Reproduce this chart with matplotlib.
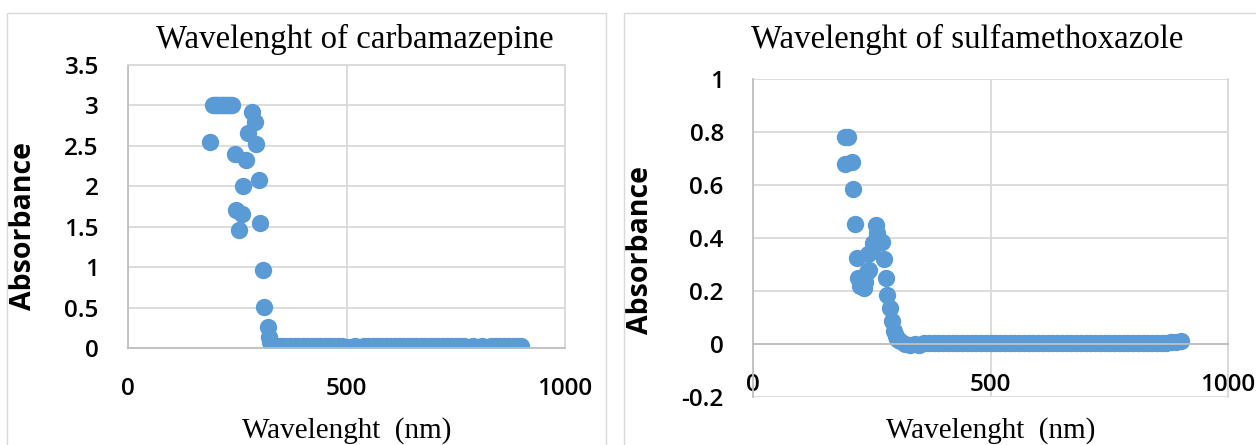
import matplotlib.pyplot as plt
from matplotlib.patches import Rectangle
from matplotlib.font_manager import FontProperties

# carbamazepine scan (absorbance saturates at 3.0)
cbz_wl = [187, 194, 198, 202, 206, 210, 214, 218, 222, 226, 230, 234, 238,
          244, 248, 253, 262, 263, 269, 274, 283, 290, 292, 299, 301, 308,
          311, 320, 322, 326, 330, 335,
          340, 350, 360, 370, 380, 390, 400, 410, 420, 430, 440, 450, 460,
          470, 480, 490, 500, 510, 520, 530, 540, 550, 560, 570, 580, 590,
          600, 610, 620, 630, 640, 650, 660, 670, 680, 690, 700, 710, 720,
          730, 740, 750, 760, 770, 780, 790, 800, 810, 820, 830, 840, 850,
          860, 870, 880, 890, 900]
cbz_abs = [2.55, 3.0, 3.0, 3.0, 3.0, 3.0, 3.0, 3.0, 3.0, 3.0, 3.0, 3.0, 3.0,
           2.40, 1.71, 1.46, 1.66, 2.00, 2.33, 2.66, 2.92, 2.80, 2.52, 2.08,
           1.55, 0.97, 0.51, 0.26, 0.14, 0.08, 0.05, 0.04,
           0.03, 0.03, 0.03, 0.03, 0.03, 0.03, 0.03, 0.03, 0.03, 0.03, 0.03,
           0.03, 0.03, 0.03, 0.03, 0.03, 0.01, 0.01, 0.02, 0.01, 0.02, 0.03,
           0.03, 0.03, 0.03, 0.03, 0.03, 0.03, 0.03, 0.03, 0.03, 0.03, 0.03,
           0.03, 0.03, 0.03, 0.03, 0.03, 0.03, 0.03, 0.03, 0.03, 0.03, 0.03,
           0.01, 0.02, 0.01, 0.02, 0.01, 0.02, 0.03, 0.03, 0.03, 0.03, 0.03,
           0.03, 0.03]

# sulfamethoxazole scan
smx_wl = [193, 194, 200, 209, 211, 215, 219, 222, 226, 234, 236, 240, 243,
          245, 250, 253, 259, 262, 271, 275, 279, 283, 289, 293, 296, 300,
          303, 310,
          320, 330, 340, 350, 360, 370, 380, 390, 400, 410, 420, 430, 440,
          450, 460, 470, 480, 490, 500, 510, 520, 530, 540, 550, 560, 570,
          580, 590, 600, 610, 620, 630, 640, 650, 660, 670, 680, 690, 700,
          710, 720, 730, 740, 750, 760, 770, 780, 790, 800, 810, 820, 830,
          840, 850, 860, 870, 880, 890, 900]
smx_abs = [0.78, 0.68, 0.78, 0.687, 0.585, 0.453, 0.325, 0.25, 0.22, 0.21,
           0.235, 0.27, 0.34, 0.28, 0.35, 0.38, 0.449, 0.42, 0.385, 0.32,
           0.25, 0.185, 0.135, 0.085, 0.05, 0.03, 0.02, 0.01,
           0.0, -0.002, 0.0, -0.002, 0.002, 0.004, 0.004, 0.004, 0.004,
           0.004, 0.004, 0.004, 0.004, 0.004, 0.004, 0.004, 0.004, 0.004,
           0.004, 0.004, 0.004, 0.004, 0.004, 0.004, 0.004, 0.004, 0.004,
           0.004, 0.004, 0.004, 0.004, 0.004, 0.004, 0.004, 0.004, 0.004,
           0.004, 0.004, 0.004, 0.004, 0.004, 0.004, 0.004, 0.004, 0.004,
           0.004, 0.004, 0.004, 0.004, 0.004, 0.004, 0.004, 0.004, 0.004,
           0.004, 0.004, 0.006, 0.008, 0.01]

cbz_yticks = [0, 0.5, 1, 1.5, 2, 2.5, 3, 3.5]
smx_yticks = [-0.2, 0, 0.2, 0.4, 0.6, 0.8, 1]
x_ticks = [0, 500, 1000]

DOT = '#5B9BD5'
GRID = '#D9D9D9'
AXIS = '#BFBFBF'
tick_font = FontProperties(family='Open Sans', weight='semibold', size=17.5)
ylab_font = FontProperties(family='Open Sans', weight='bold', size=20.5)
serif_font = FontProperties(family='Liberation Serif', size=21)
title_font = FontProperties(family='Liberation Serif', size=23.7)

fig = plt.figure(figsize=(12.56, 4.45), dpi=100)

# chart area frames
fig.patches.append(Rectangle((7 / 1256, -0.1), 599 / 1256, 1.1 - 13 / 445,
                             transform=fig.transFigure, fill=False,
                             edgecolor=GRID, lw=1))
fig.patches.append(Rectangle((624 / 1256, -0.1), 0.6, 1.1 - 13 / 445,
                             transform=fig.transFigure, fill=False,
                             edgecolor=GRID, lw=1))


def style(ax, yticks, ylim, ylabel_y, xaxis_at_zero=False):
    if xaxis_at_zero:
        # excel puts the category axis where y = 0
        ax.spines['bottom'].set_position(('data', 0))
        ax.spines['top'].set_visible(False)
    ax.set_xlim(0, 1000)
    ax.set_ylim(*ylim)
    ax.set_xticks(x_ticks)
    ax.set_yticks(yticks)
    ax.set_yticklabels([f'{t:g}' for t in yticks])
    ax.grid(True, color=GRID, lw=1.3)
    ax.set_axisbelow(True)
    for name, s in ax.spines.items():
        s.set_linewidth(1.3)
        s.set_color(AXIS if name in ('left', 'bottom') else GRID)
    ax.tick_params(length=0, pad=21, colors='black')
    for lab in ax.get_xticklabels() + ax.get_yticklabels():
        lab.set_fontproperties(tick_font)
    ax.set_ylabel('Absorbance', fontproperties=ylab_font)
    ax.yaxis.set_label_coords(-0.206, ylabel_y)


ax1 = fig.add_axes([128 / 1256, 1 - 348 / 445, 437 / 1256, 283 / 445])
ax1.plot(cbz_wl, cbz_abs, 'o', color=DOT, ms=12.5, mec='none')
style(ax1, cbz_yticks, (0, 3.5), 0.431)
ax1.set_title('Wavelenght of carbamazepine', fontproperties=title_font,
              pad=12, x=0.52)
ax1.set_xlabel('Wavelenght  (nm)', fontproperties=serif_font)
ax1.xaxis.set_label_coords(0.5, -0.243)

ax2 = fig.add_axes([753 / 1256, 1 - 397 / 445, 475 / 1256, 318 / 445])
ax2.plot(smx_wl, smx_abs, 'o', color=DOT, ms=12.5, mec='none')
style(ax2, smx_yticks, (-0.2, 1), 0.462, xaxis_at_zero=True)
ax2.set_title('Wavelenght of sulfamethoxazole', fontproperties=title_font,
              pad=22, x=0.45)
ax2.set_xlabel('Wavelenght  (nm)', fontproperties=serif_font)
ax2.xaxis.set_label_coords(0.5, -0.062)

fig.savefig('out.png', dpi=100)
